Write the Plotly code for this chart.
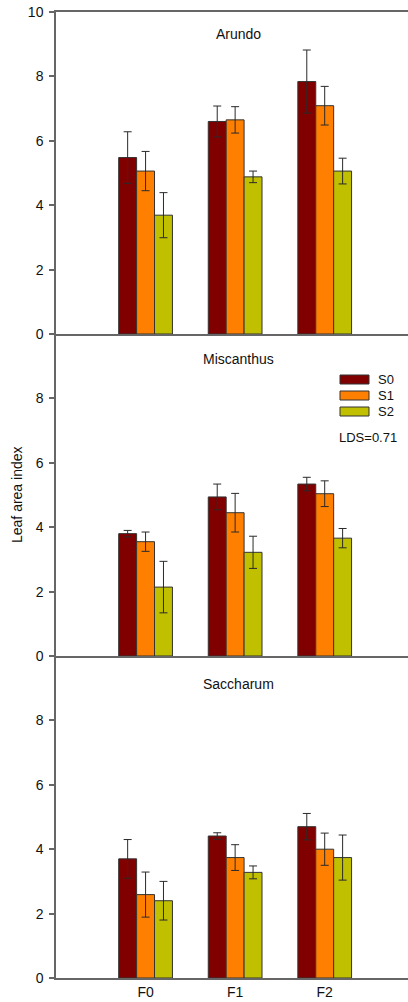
import plotly.graph_objects as go
from plotly.subplots import make_subplots

# Fertilisation levels on the x axis, salinity levels as series
categories = ["F0", "F1", "F2"]
series_names = ["S0", "S1", "S2"]
species = ["Arundo", "Miscanthus", "Saccharum"]

# Leaf area index means per species, one list per salinity level
arundo_s0 = [5.48, 6.60, 7.84]
arundo_s1 = [5.06, 6.65, 7.09]
arundo_s2 = [3.69, 4.88, 5.06]
miscanthus_s0 = [3.80, 4.94, 5.34]
miscanthus_s1 = [3.55, 4.45, 5.04]
miscanthus_s2 = [2.14, 3.22, 3.66]
saccharum_s0 = [3.70, 4.41, 4.70]
saccharum_s1 = [2.59, 3.74, 4.00]
saccharum_s2 = [2.40, 3.28, 3.74]

# Standard errors (symmetric)
arundo_s0_err = [0.80, 0.48, 0.98]
arundo_s1_err = [0.61, 0.41, 0.60]
arundo_s2_err = [0.70, 0.18, 0.40]
miscanthus_s0_err = [0.10, 0.40, 0.21]
miscanthus_s1_err = [0.30, 0.60, 0.40]
miscanthus_s2_err = [0.80, 0.50, 0.30]
saccharum_s0_err = [0.60, 0.10, 0.41]
saccharum_s1_err = [0.70, 0.40, 0.50]
saccharum_s2_err = [0.60, 0.20, 0.70]

lsd_label = "LDS=0.71"
y_title = "Leaf area index"

panel_values = [
    [arundo_s0, arundo_s1, arundo_s2],
    [miscanthus_s0, miscanthus_s1, miscanthus_s2],
    [saccharum_s0, saccharum_s1, saccharum_s2],
]
panel_errors = [
    [arundo_s0_err, arundo_s1_err, arundo_s2_err],
    [miscanthus_s0_err, miscanthus_s1_err, miscanthus_s2_err],
    [saccharum_s0_err, saccharum_s1_err, saccharum_s2_err],
]

colors = ["#800000", "#FF8000", "#C0C000"]
axis_color = "#666666"
font_family = "Liberation Sans, Arial, sans-serif"

W, H = 408, 1002
ML, MR, MT, MB = 56, 0, 12, 24

fig = make_subplots(rows=3, cols=1, shared_xaxes=False, vertical_spacing=0)

for r, (vals, errs) in enumerate(zip(panel_values, panel_errors), start=1):
    for name, v, e, c in zip(series_names, vals, errs, colors):
        fig.add_trace(
            go.Bar(
                x=categories, y=v, name=name,
                marker=dict(color=c, line=dict(color="#333333", width=1)),
                error_y=dict(type="data", array=e, visible=True,
                             color="#2a2a2a", thickness=1, width=4),
                showlegend=False,
            ),
            row=r, col=1,
        )

fig.update_layout(
    width=W, height=H,
    margin=dict(l=ML, r=MR, t=MT, b=MB),
    barmode="group", bargap=0.4, bargroupgap=0,
    plot_bgcolor="white", paper_bgcolor="white",
    font=dict(family=font_family, size=13, color="#111111"),
    showlegend=False,
)

for r in range(1, 4):
    fig.update_xaxes(
        row=r, col=1, type="category", range=[-1, 2.93],
        showline=True, linecolor=axis_color, linewidth=1.5,
        mirror=(r == 1), ticks="", showgrid=False, zeroline=False,
        showticklabels=(r == 3), tickfont=dict(size=14),
    )
    fig.update_yaxes(
        row=r, col=1, range=[0, 10],
        tickvals=[0, 2, 4, 6, 8, 10] if r == 1 else [0, 2, 4, 6, 8],
        showline=True, linecolor=axis_color, linewidth=1.5,
        ticks="outside", ticklen=5, tickcolor=axis_color, tickwidth=1.5,
        ticklabelstandoff=3,
        showgrid=False, zeroline=False, tickfont=dict(size=14),
    )

plot_h = H - MT - MB
plot_w = W - ML - MR


def px_x(px):
    return (px - ML) / plot_w


def px_y(py):
    return (H - MB - py) / plot_h


# Panel titles
for name, ty in zip(species, [34, 358.5, 684]):
    fig.add_annotation(text=name, x=px_x(238), y=px_y(ty), xref="paper", yref="paper",
                       showarrow=False, xanchor="center", yanchor="middle",
                       font=dict(size=14))

# Shared y-axis title
fig.add_annotation(text=y_title, x=px_x(17), y=0.5, xref="paper", yref="paper",
                   showarrow=False, textangle=-90, xanchor="center", yanchor="middle",
                   font=dict(size=14))

# Legend drawn as boxes with labels in the middle panel
for i, (name, c) in enumerate(zip(series_names, colors)):
    cy = 379.5 + 16 * i
    fig.add_shape(type="rect", xref="paper", yref="paper",
                  x0=px_x(340), x1=px_x(369), y0=px_y(cy + 4.5), y1=px_y(cy - 4.5),
                  fillcolor=c, line=dict(color="#333333", width=1))
    fig.add_annotation(text=name, x=px_x(376), y=px_y(cy), xref="paper", yref="paper",
                       showarrow=False, xanchor="left", yanchor="middle",
                       font=dict(size=13))

fig.add_annotation(text=lsd_label, x=px_x(337), y=px_y(437), xref="paper", yref="paper",
                   showarrow=False, xanchor="left", yanchor="middle",
                   font=dict(size=13))

fig.write_html("out.html")
